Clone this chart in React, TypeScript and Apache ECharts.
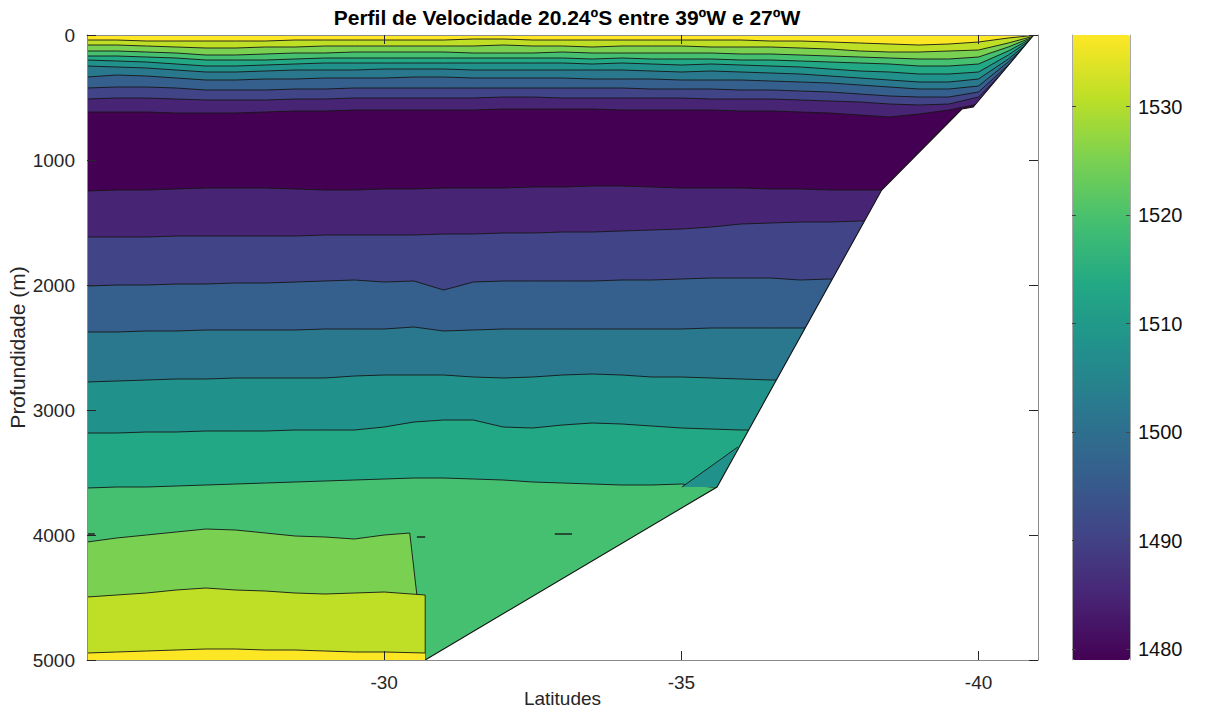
import React, { useEffect, useRef } from "react";
import * as echarts from "echarts";

// Longitude stations of the section (every 0.5°)
const lonGrid = [
  -25, -25.5, -26, -26.5, -27, -27.5, -28, -28.5, -29, -29.5, -30, -30.5, -31, -31.5, -32, -32.5,
  -33, -33.5, -34, -34.5, -35, -35.5, -36, -36.5, -37, -37.5, -38, -38.5, -39, -39.5, -40, -40.5, -41,
];

// Sound speed (m/s) assigned to each filled band, from the slowest (c0) to the fastest (c10)
const bandSpeed = [1479.0, 1484.8, 1490.5, 1496.3, 1502.0, 1507.8, 1513.6, 1519.4, 1525.1, 1530.9, 1536.6];

// Upper-ocean isolines (depth in m), from the surface downwards
const top01 = [40, 40, 48, 48, 48, 48, 48, 40, 40, 40, 40, 40, 40, 32, 32, 40, 40, 40, 40, 40, 40, 40, 40, 48, 48, 56, 64, 72, 80, 72, 56, 24, 0];
const top02 = [80, 80, 88, 96, 104, 104, 96, 96, 88, 88, 88, 88, 88, 88, 80, 88, 88, 96, 88, 88, 88, 96, 96, 96, 104, 112, 128, 136, 136, 128, 120, 64, 0];
const top03 = [128, 128, 136, 144, 160, 160, 152, 144, 144, 136, 136, 136, 136, 144, 144, 144, 136, 144, 144, 144, 144, 144, 152, 152, 160, 168, 176, 184, 192, 192, 176, 96, 0];
const top04 = [168, 168, 176, 184, 200, 200, 200, 192, 184, 184, 184, 184, 184, 184, 184, 184, 184, 192, 184, 192, 192, 192, 200, 200, 208, 216, 224, 232, 248, 248, 232, 128, 0];
const top05 = [200, 208, 216, 232, 248, 248, 240, 232, 224, 224, 224, 224, 224, 224, 224, 224, 224, 232, 224, 232, 240, 232, 240, 248, 256, 272, 288, 296, 312, 312, 296, 160, 0];
const top06 = [248, 256, 264, 280, 296, 296, 288, 280, 280, 280, 272, 272, 272, 280, 280, 280, 280, 280, 280, 288, 296, 288, 296, 304, 312, 328, 344, 360, 376, 376, 352, 192, 0];
const top07 = [336, 320, 328, 344, 360, 360, 352, 352, 344, 344, 344, 336, 336, 344, 344, 344, 344, 352, 352, 352, 360, 360, 360, 368, 376, 384, 400, 416, 432, 432, 408, 216, 0];
const top08 = [424, 416, 416, 424, 440, 440, 440, 432, 432, 424, 424, 424, 424, 424, 424, 424, 424, 424, 424, 432, 432, 432, 440, 440, 448, 456, 472, 488, 496, 496, 456, 240, 0];
const top09 = [512, 504, 504, 512, 520, 520, 520, 512, 512, 504, 504, 504, 504, 504, 496, 496, 504, 504, 504, 504, 504, 512, 512, 512, 520, 528, 536, 552, 560, 552, 496, 256, 0];
const top10 = [616, 616, 616, 624, 624, 624, 616, 608, 608, 600, 600, 600, 600, 600, 592, 592, 592, 592, 600, 600, 600, 600, 608, 608, 616, 624, 640, 656, 632, 600, 552, 272, 0];

// Deep isolines (depth in m), from the minimum downwards
const deep01 = [1248, 1240, 1240, 1232, 1224, 1224, 1224, 1232, 1240, 1240, 1232, 1232, 1224, 1224, 1224, 1216, 1216, 1208, 1208, 1216, 1224, 1224, 1224, 1232, 1232, 1240, 1240, 1240, 1240, 1240, 1240, 1240, 1240];
const deep02 = [1616, 1616, 1616, 1608, 1608, 1608, 1608, 1608, 1600, 1600, 1600, 1600, 1592, 1592, 1584, 1584, 1576, 1576, 1568, 1560, 1552, 1536, 1512, 1504, 1496, 1496, 1488, 1488, 1488, 1488, 1488, 1488, 1488];
const deep03 = [2008, 2000, 2000, 1992, 1992, 1984, 1984, 1976, 1968, 1960, 1976, 1968, 2040, 1976, 1968, 1968, 1968, 1968, 1960, 1960, 1952, 1944, 1944, 1944, 1960, 1952, 1952, 1952, 1952, 1952, 1952, 1952, 1952];
const deep04 = [2376, 2376, 2368, 2368, 2360, 2360, 2360, 2360, 2352, 2352, 2352, 2336, 2368, 2360, 2352, 2352, 2352, 2352, 2352, 2352, 2352, 2344, 2344, 2344, 2344, 2344, 2344, 2344, 2344, 2344, 2344, 2344, 2344];
const deep05 = [2776, 2768, 2760, 2752, 2752, 2744, 2744, 2744, 2744, 2728, 2720, 2720, 2720, 2736, 2744, 2736, 2720, 2712, 2720, 2736, 2736, 2744, 2752, 2760, 2760, 2760, 2760, 2760, 2760, 2760, 2760, 2760, 2760];
const deep06 = [3184, 3184, 3176, 3176, 3168, 3168, 3168, 3160, 3160, 3160, 3136, 3096, 3080, 3080, 3136, 3144, 3120, 3104, 3112, 3128, 3144, 3152, 3160, 3160, 3160, 3160, 3160, 3160, 3160, 3160, 3160, 3160, 3160];
const deep07 = [3624, 3616, 3616, 3608, 3600, 3592, 3584, 3576, 3568, 3560, 3552, 3544, 3544, 3552, 3560, 3576, 3584, 3592, 3600, 3600, 3592, 3616, 3616, 3616, 3616, 3616, 3616, 3616, 3616, 3616, 3616, 3616, 3616];

// Abyssal isolines that only exist on the western stations (-25° .. -30°)
const west08 = [4056, 4024, 4000, 3976, 3952, 3960, 3984, 4008, 4016, 4032, 4000];
const west09 = [4496, 4480, 4464, 4440, 4424, 4440, 4448, 4464, 4472, 4464, 4456];
const west10 = [4944, 4936, 4928, 4920, 4912, 4912, 4920, 4920, 4928, 4936, 4936];
const west08Edge = [[-30.43, 3984], [-30.55, 4480]];
const west09Edge = [[-30.69, 4480]];
const west10Edge = [[-30.69, 4944]];
const westEdgeLon = -30.69;

// Small wedge against the slope near -35.5°
const slopeWedge = [[-35.01, 3616], [-35.95, 3296], [-35.6, 3616]];

// Tiny closed isolines (lon start, lon end, depth)
const islands = [
  [-25.0, -25.13, 3992],
  [-30.55, -30.69, 4016],
  [-32.87, -33.16, 3992],
];

// Sea floor along the section
const bathyLon = [-40.93, -39.91, -39.72, -38.37, -35.6, -30.69];
const bathyDepth = [0, 576, 592, 1240, 3616, 5000];

const xTicks = [-40, -35, -30];
const cbarTicks = [1480, 1490, 1500, 1510, 1520, 1530];
const viridis = ["#440154", "#482475", "#414487", "#355f8d", "#2a788e", "#21918c", "#22a884", "#44bf70", "#7ad151", "#bddf26", "#fde725"];

const LON_W = -25;
const LON_E = -41;
const MAX_DEPTH = 5000;

type Poly = { speed: number; fill: number[][]; line?: number[][] };

function buildBands(): Poly[] {
  const along = (depths: number[]) => depths.map((d, i) => [lonGrid[i], d]);
  const polys: Poly[] = [];
  polys.push({ speed: bandSpeed[10], fill: [[LON_W, 0], [LON_E, 0], [LON_E, MAX_DEPTH], [LON_W, MAX_DEPTH]] });
  [top01, top02, top03, top04, top05, top06, top07, top08, top09, top10].forEach((depths, i) => {
    const line = along(depths);
    polys.push({ speed: bandSpeed[9 - i], fill: [...line, [LON_E, MAX_DEPTH], [LON_W, MAX_DEPTH]], line });
  });
  [deep01, deep02, deep03, deep04, deep05, deep06, deep07].forEach((depths, i) => {
    const line = along(depths);
    polys.push({ speed: bandSpeed[i + 1], fill: [...line, [LON_E, MAX_DEPTH], [LON_W, MAX_DEPTH]], line });
  });
  polys.push({ speed: bandSpeed[5], fill: slopeWedge, line: slopeWedge.slice(0, 2) });
  const l8 = [...along(west08), ...west08Edge];
  polys.push({ speed: bandSpeed[8], fill: [...l8, [west08Edge[1][0], MAX_DEPTH], [LON_W, MAX_DEPTH]], line: l8 });
  const l9 = [...along(west09), ...west09Edge];
  polys.push({ speed: bandSpeed[9], fill: [...l9, [westEdgeLon, MAX_DEPTH], [LON_W, MAX_DEPTH]], line: [...l9, [westEdgeLon, MAX_DEPTH]] });
  const l10 = [...along(west10), ...west10Edge];
  polys.push({ speed: bandSpeed[10], fill: [...l10, [westEdgeLon, MAX_DEPTH], [LON_W, MAX_DEPTH]], line: l10 });
  return polys;
}

const plain = (v: number) => String(v);

export default function App() {
  const ref = useRef<HTMLDivElement>(null);

  useEffect(() => {
    if (!ref.current) return;
    const chart = echarts.init(ref.current, null, { renderer: "svg" });
    const bands = buildBands();
    const font = "'Liberation Sans', Arial, Helvetica, sans-serif";
    const axisGray = "#8a8a8a";
    const ink = "#262626";
    const frame = { show: true, onZero: false, lineStyle: { color: axisGray, width: 1 } };
    const cbarFrame = { show: true, onZero: false, lineStyle: { color: "#a8a8a8", width: 1 } };

    const lineStyle = { fill: "none", stroke: "#161616", lineWidth: 0.9 };

    chart.setOption({
      animation: false,
      backgroundColor: "#ffffff",
      title: {
        text: "Perfil de Velocidade 20.24ºS entre 39ºW e 27ºW",
        left: 562,
        top: 2,
        textAlign: "center",
        textStyle: { fontFamily: font, fontSize: 21, fontWeight: "bold", color: "#000" },
      },
      grid: [
        { left: 87, top: 35, width: 951, height: 625, containLabel: false, outerBoundsMode: "none" },
        { left: 1072, top: 35, width: 58, height: 625, containLabel: false, outerBoundsMode: "none" },
      ],
      xAxis: [
        {
          type: "value", gridIndex: 0, min: LON_E, max: LON_W, inverse: true, position: "bottom",
          name: "Latitudes", nameLocation: "middle", nameGap: 29, nameMoveOverlap: false,
          nameTextStyle: { fontFamily: font, fontSize: 19, color: ink },
          axisLine: frame,
          axisTick: { show: true, inside: true, length: 9, customValues: xTicks, lineStyle: { color: ink } },
          axisLabel: { customValues: xTicks, formatter: plain, fontFamily: font, fontSize: 19, color: ink, margin: 13 },
          splitLine: { show: false },
          z: 10,
        },
        {
          type: "value", gridIndex: 0, min: LON_E, max: LON_W, inverse: true, position: "top",
          axisLine: frame,
          axisTick: { show: true, inside: true, length: 9, customValues: xTicks, lineStyle: { color: ink } },
          axisLabel: { show: false },
          splitLine: { show: false },
          z: 10,
        },
        { type: "value", gridIndex: 1, min: 0, max: 1, show: false },
      ],
      yAxis: [
        {
          type: "value", gridIndex: 0, min: 0, max: MAX_DEPTH, interval: 1000, inverse: true, position: "left",
          name: "Profundidade (m)", nameLocation: "middle", nameGap: 59, nameRotate: 90, nameMoveOverlap: false,
          nameTextStyle: { fontFamily: font, fontSize: 21, color: ink },
          axisLine: frame,
          axisTick: { show: true, inside: true, length: 9, lineStyle: { color: ink } },
          axisLabel: { formatter: plain, fontFamily: font, fontSize: 19, color: ink, margin: 12 },
          splitLine: { show: false },
          z: 10,
        },
        {
          type: "value", gridIndex: 0, min: 0, max: MAX_DEPTH, interval: 1000, inverse: true, position: "right",
          axisLine: frame,
          axisTick: { show: true, inside: true, length: 9, lineStyle: { color: ink } },
          axisLabel: { show: false },
          splitLine: { show: false },
          z: 10,
        },
        {
          type: "value", gridIndex: 1, min: bandSpeed[0], max: bandSpeed[10], position: "left",
          axisLine: cbarFrame,
          axisTick: { show: true, inside: true, length: 4, customValues: cbarTicks, lineStyle: { color: "#444" } },
          axisLabel: { show: false },
          splitLine: { show: false },
          z: 10,
        },
        {
          type: "value", gridIndex: 1, min: bandSpeed[0], max: bandSpeed[10], position: "right",
          axisLine: cbarFrame,
          axisTick: { show: true, inside: true, length: 4, customValues: cbarTicks, lineStyle: { color: "#444" } },
          axisLabel: { customValues: cbarTicks, formatter: plain, fontFamily: font, fontSize: 20, color: "#111", margin: 8 },
          splitLine: { show: false },
          z: 10,
        },
      ],
      visualMap: {
        type: "continuous",
        seriesIndex: 0,
        dimension: 1,
        min: bandSpeed[0],
        max: bandSpeed[10],
        inRange: { color: viridis },
        calculable: false,
        left: 1072,
        top: 35,
        itemWidth: 58,
        itemHeight: 625,
        padding: 0,
        text: null,
        show: true,
        z: 4,
      },
      series: [
        {
          type: "custom",
          coordinateSystem: "cartesian2d",
          xAxisIndex: 0,
          yAxisIndex: 0,
          clip: true,
          z: 2,
          data: bands.map((b, i) => [i, b.speed]),
          renderItem: (params: any, api: any) => {
            const band = bands[params.dataIndex];
            const children: any[] = [
              {
                type: "polygon",
                shape: { points: band.fill.map((p) => api.coord(p)) },
                style: { fill: api.visual("color"), stroke: "none" },
              },
            ];
            if (band.line) {
              children.push({
                type: "polyline",
                shape: { points: band.line.map((p) => api.coord(p)) },
                style: lineStyle,
              });
            }
            return { type: "group", children };
          },
        },
        {
          type: "custom",
          coordinateSystem: "cartesian2d",
          xAxisIndex: 0,
          yAxisIndex: 0,
          clip: true,
          z: 3,
          data: islands,
          renderItem: (params: any, api: any) => ({
            type: "polyline",
            shape: { points: [api.coord([api.value(0), api.value(2)]), api.coord([api.value(1), api.value(2)])] },
            style: { fill: "none", stroke: "#1a1a1a", lineWidth: 1.4 },
          }),
        },
        {
          type: "custom",
          coordinateSystem: "cartesian2d",
          xAxisIndex: 0,
          yAxisIndex: 0,
          clip: true,
          z: 5,
          data: [[0]],
          renderItem: (params: any, api: any) => {
            const slope = bathyLon.map((lon, i) => api.coord([lon, bathyDepth[i]]));
            const floor = [...slope, api.coord([LON_E, MAX_DEPTH]), api.coord([LON_E, 0])];
            return {
              type: "group",
              children: [
                { type: "polygon", shape: { points: floor }, style: { fill: "#ffffff", stroke: "none" } },
                { type: "polyline", shape: { points: slope }, style: { fill: "none", stroke: "#111", lineWidth: 1.1 } },
              ],
            };
          },
        },
      ],
    });

    return () => chart.dispose();
  }, []);

  return (
    <div
      ref={ref}
      style={{ position: "fixed", left: 0, top: 0, width: 1214, height: 713, background: "#fff" }}
    />
  );
}
